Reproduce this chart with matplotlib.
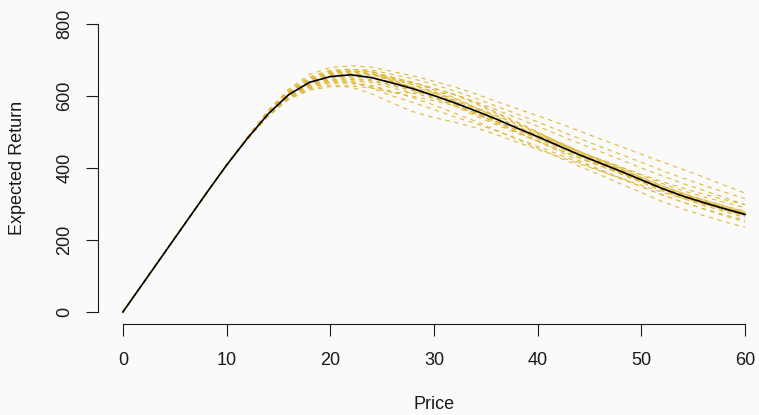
import matplotlib.pyplot as plt
import numpy as np

plt.rcParams['font.family'] = ['Liberation Sans', 'DejaVu Sans']

# price grid (shared by all curves)
price = np.arange(0, 61, 2)

# linear part, identical for every curve (price 0..10)
linear_part = [0, 82, 164, 246, 328, 408]

# mean expected return, price 12..60
mean_return = [482, 550, 604, 638, 654, 659, 651, 636, 620, 601, 581, 559, 536,
               511, 487, 462, 437, 414, 391, 367, 343, 322, 304, 287, 271]

# resampled curves, price 12..60
boot_1 = [487, 560, 619, 660, 679, 684, 680, 668, 656, 641, 625, 606, 585, 565, 545, 525, 503, 481, 460, 438, 417, 396, 375, 352, 330]
boot_2 = [482, 545, 594, 623, 636, 637, 630, 612, 595, 575, 552, 530, 505, 480, 455, 430, 405, 381, 356, 332, 307, 286, 268, 251, 235]
boot_3 = [484, 558, 616, 653, 672, 675, 667, 645, 623, 600, 577, 552, 528, 505, 482, 458, 433, 410, 388, 365, 342, 320, 302, 284, 266]
boot_4 = [480, 543, 592, 620, 630, 628, 622, 610, 609, 609, 605, 582, 555, 528, 500, 472, 446, 420, 396, 372, 350, 330, 312, 295, 280]
boot_5 = [482, 546, 596, 626, 638, 635, 626, 610, 599, 587, 573, 550, 530, 510, 490, 468, 445, 424, 403, 382, 362, 344, 327, 312, 298]
boot_6 = [483, 553, 609, 646, 665, 670, 668, 652, 637, 617, 595, 568, 542, 516, 490, 463, 436, 411, 386, 361, 337, 315, 296, 279, 262]
boot_7 = [481, 548, 599, 631, 645, 646, 642, 628, 615, 599, 582, 558, 536, 514, 493, 470, 446, 424, 402, 380, 357, 337, 320, 305, 290]
boot_8 = [482, 551, 606, 643, 662, 668, 667, 650, 631, 608, 585, 556, 528, 500, 474, 447, 420, 396, 372, 348, 325, 305, 287, 270, 255]
boot_9 = [480, 547, 600, 632, 646, 648, 645, 630, 615, 595, 572, 545, 520, 497, 474, 451, 428, 406, 385, 363, 342, 322, 305, 290, 276]
boot_10 = [483, 554, 610, 648, 668, 674, 672, 660, 648, 632, 614, 594, 572, 550, 528, 505, 482, 460, 438, 416, 393, 372, 352, 333, 315]
boot_11 = [481, 544, 591, 616, 626, 625, 606, 580, 556, 540, 527, 512, 493, 472, 452, 432, 412, 392, 372, 352, 333, 316, 300, 285, 270]
boot_12 = [482, 549, 602, 637, 652, 654, 650, 634, 619, 603, 587, 565, 545, 522, 498, 473, 447, 423, 399, 374, 350, 329, 311, 294, 278]
boot_13 = [484, 556, 613, 650, 668, 669, 662, 642, 623, 602, 579, 550, 524, 500, 476, 452, 428, 406, 383, 360, 338, 318, 300, 283, 268]
boot_14 = [482, 550, 604, 639, 656, 660, 658, 645, 631, 612, 588, 565, 538, 510, 485, 460, 435, 412, 389, 366, 344, 324, 307, 290, 274]
boot_15 = [481, 547, 598, 630, 644, 640, 622, 600, 582, 562, 542, 524, 503, 482, 460, 438, 415, 393, 370, 348, 326, 305, 286, 267, 250]
boot_16 = [483, 552, 607, 643, 660, 663, 660, 652, 638, 622, 604, 584, 562, 539, 516, 492, 468, 446, 423, 400, 378, 357, 338, 318, 298]
boot_17 = [482, 551, 605, 640, 656, 660, 660, 648, 636, 621, 603, 579, 552, 525, 498, 470, 443, 418, 394, 370, 346, 325, 306, 288, 272]
boot_18 = [481, 546, 597, 628, 641, 642, 638, 622, 608, 593, 577, 553, 530, 505, 482, 458, 434, 412, 389, 367, 345, 324, 306, 289, 273]
boot_19 = [483, 555, 611, 648, 664, 666, 661, 640, 621, 601, 581, 555, 533, 512, 491, 468, 444, 421, 398, 374, 350, 328, 309, 291, 275]
boot_20 = [482, 548, 601, 634, 650, 653, 651, 638, 625, 609, 593, 569, 546, 522, 496, 468, 441, 416, 392, 368, 344, 322, 302, 284, 268]

boot_curves = [boot_1, boot_2, boot_3, boot_4, boot_5, boot_6, boot_7, boot_8, boot_9, boot_10,
               boot_11, boot_12, boot_13, boot_14, boot_15, boot_16, boot_17, boot_18, boot_19, boot_20]

x_ticks = [0, 10, 20, 30, 40, 50, 60]
y_ticks = [0, 200, 400, 600, 800]

bg = '#FAFAFA'
W, H = 759, 415
fig = plt.figure(figsize=(W / 100, H / 100), dpi=100, facecolor=bg)
# axes placed in pixel units (R-style plot region with 4% padding)
ax = fig.add_axes([98 / W, 1 - 323.5 / H, 672 / W, 311 / H], facecolor=bg)

for b in boot_curves:
    ax.plot(price, linear_part + b, color='#E0BA3A', lw=0.8, ls=(0, (4, 4)))
ax.plot(price, linear_part + mean_return, color='black', lw=1.2)

ax.set_xlim(-2.4, 62.4)
ax.set_ylim(-32, 832)

for s in ['top', 'right']:
    ax.spines[s].set_visible(False)
ax.spines['left'].set_bounds(0, 800)
ax.spines['bottom'].set_bounds(0, 60)
for s in ['left', 'bottom']:
    ax.spines[s].set_linewidth(0.8)
    ax.spines[s].set_color('#1a1a1a')

ax.set_xticks(x_ticks)
ax.set_yticks(y_ticks)
ax.tick_params(direction='out', length=8.6, width=0.8, color='#1a1a1a',
               labelcolor='#1a1a1a', labelsize=13)
ax.tick_params(axis='x', pad=12)
ax.tick_params(axis='y', labelrotation=90, pad=9)
for lab in ax.get_yticklabels():
    lab.set_va('center')

ax.set_xlabel('Price', fontsize=13, labelpad=19, color='#1a1a1a')
ax.set_ylabel('Expected Return', fontsize=13, labelpad=22, color='#1a1a1a')

fig.savefig('out.png', dpi=100, facecolor=bg)
